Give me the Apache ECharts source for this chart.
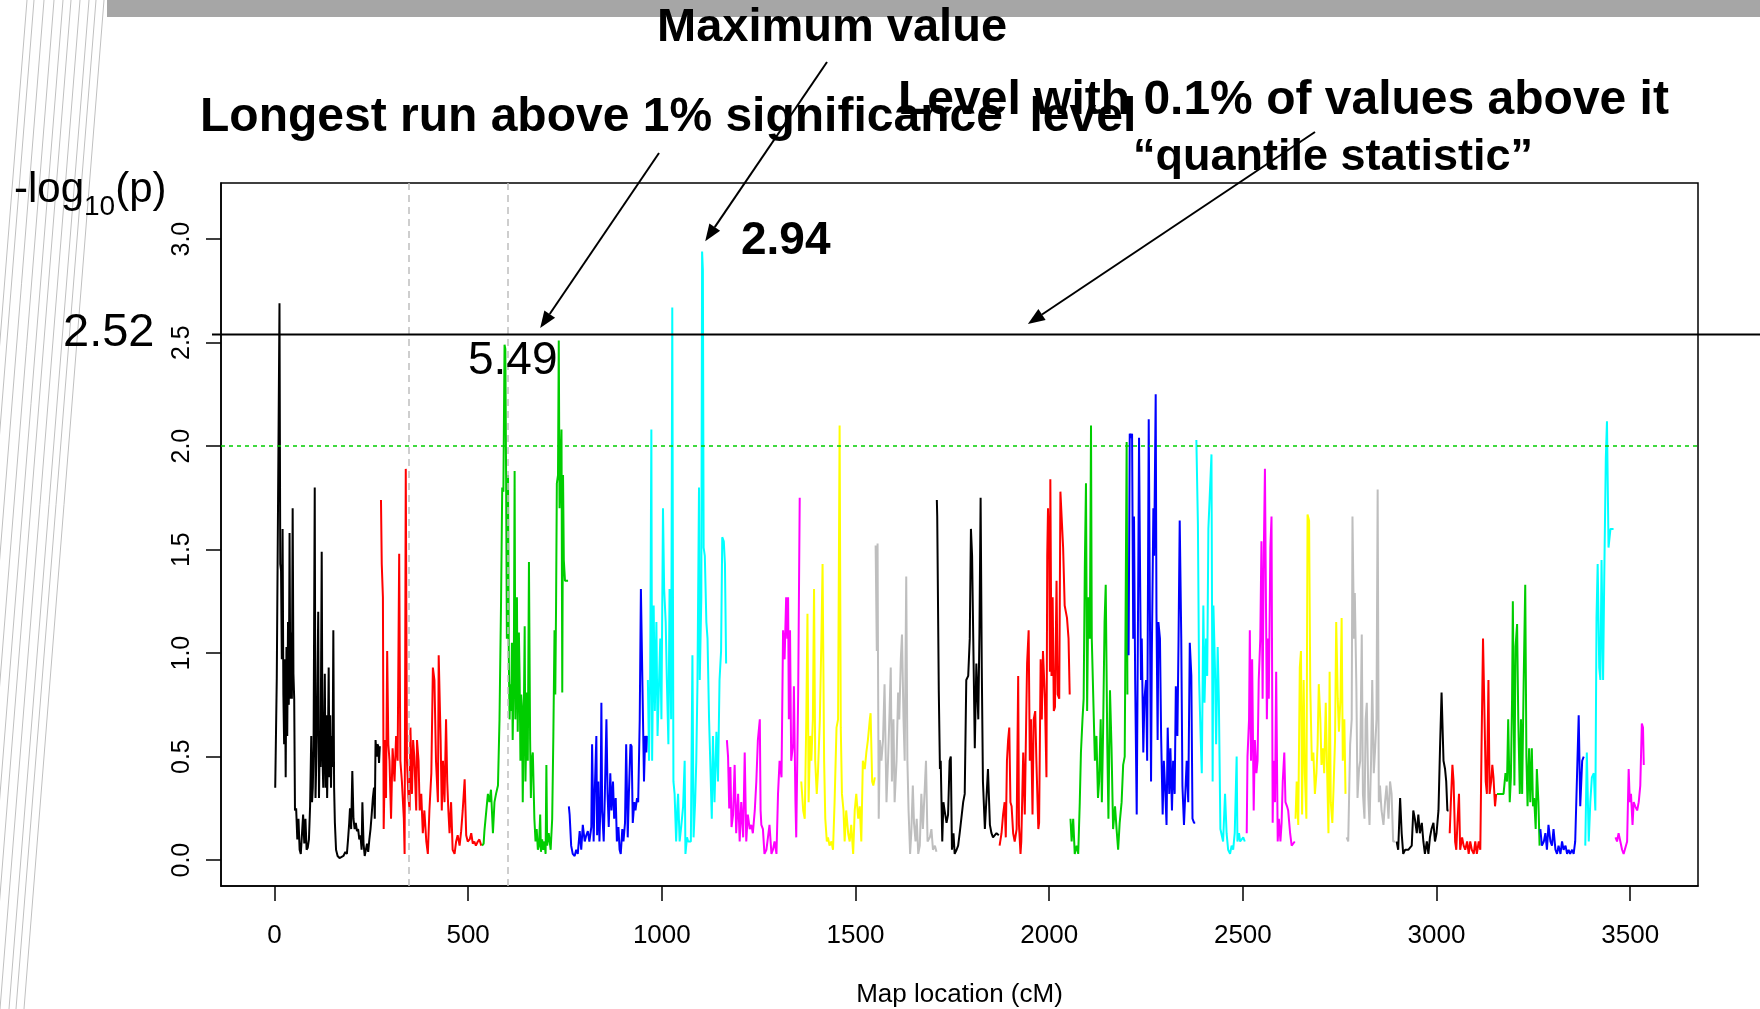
<!DOCTYPE html>
<html>
<head>
<meta charset="utf-8">
<script src="https://cdn.jsdelivr.net/npm/echarts@6/dist/echarts.min.js"></script>
<style>
html,body{margin:0;padding:0;background:#fff;}
#chart{width:1760px;height:1009px;}
</style>
</head>
<body>
<div id="chart"></div>
<script>
// ---------- data: [map location (cM), -log10(p)] per chromosome ----------
const chr1 = [[2,0.35],[6,0.88],[10,0.88],[13,2.69],[15,1.43],[17,1.40],[19,0.97],[21,1.60],[23,0.80],[25,0.56],[27,0.97],[29,0.40],[31,1.03],[33,0.60],[35,1.15],[37,0.75],[39,1.58],[41,0.78],[43,1.10],[45,0.78],[47,1.70],[49,0.90],[51,0.78],[53,0.24],[56,0.25],[59,0.10],[62,0.20],[65,0.05],[68,0.03],[71,0.03],[74,0.22],[77,0.08],[80,0.20],[83,0.05],[86,0.06],[89,0.10],[92,0.26],[95,0.60],[97,0.28],[99,0.35],[101,0.55],[104,1.80],[106,0.30],[108,0.48],[110,0.70],[113,1.20],[115,0.30],[117,0.60],[119,0.45],[122,1.49],[124,0.50],[126,0.35],[128,0.60],[130,0.90],[132,0.35],[134,0.70],[136,0.30],[138,0.55],[140,0.93],[142,0.40],[144,0.70],[146,0.35],[148,0.60],[150,0.45],[152,1.11],[154,0.35],[156,0.18],[159,0.05],[163,0.02],[168,0.01],[173,0.01],[178,0.02],[183,0.04],[187,0.03],[190,0.10],[193,0.18],[195,0.25],[198,0.15],[201,0.43],[204,0.20],[207,0.15],[210,0.18],[213,0.14],[216,0.15],[219,0.10],[222,0.12],[225,0.05],[227,0.28],[230,0.08],[233,0.02],[236,0.05],[239,0.08],[242,0.04],[245,0.10],[248,0.15],[251,0.22],[254,0.30],[257,0.35],[259,0.20],[261,0.58],[264,0.50],[266,0.56],[268,0.55],[270,0.47],[272,0.55]];
const chr2 = [[275,1.74],[277,1.43],[280,1.27],[282,0.15],[286,0.58],[288,0.30],[291,1.01],[294,0.56],[297,0.48],[301,0.20],[305,0.54],[310,0.38],[314,0.60],[318,0.48],[322,1.48],[325,0.48],[329,0.38],[334,0.20],[336,0.03],[339,1.89],[342,0.48],[346,0.30],[349,0.24],[351,0.64],[355,0.32],[358,0.58],[361,0.50],[366,0.24],[368,0.58],[372,0.48],[375,0.24],[379,0.32],[383,0.13],[387,0.24],[392,0.09],[396,0.03],[400,0.24],[405,0.42],[409,0.93],[413,0.87],[417,0.48],[422,0.28],[424,0.99],[429,0.58],[432,0.24],[435,0.48],[439,0.28],[443,0.68],[446,0.38],[449,0.24],[452,0.13],[456,0.28],[460,0.05],[465,0.03],[469,0.09],[473,0.12],[478,0.07],[482,0.14],[486,0.24],[491,0.39],[495,0.12],[499,0.09],[504,0.10],[508,0.13],[512,0.08],[516,0.09],[520,0.07],[525,0.09],[529,0.10],[534,0.07]];
const chr3 = [[536,0.07],[540,0.08],[542,0.14],[547,0.24],[551,0.32],[555,0.28],[559,0.34],[564,0.13],[568,0.28],[572,0.32],[577,0.36],[581,0.68],[585,1.25],[588,1.80],[591,1.78],[594,2.49],[596,2.47],[598,1.86],[600,1.07],[603,1.86],[605,0.97],[607,0.68],[609,0.85],[611,0.72],[613,1.05],[615,0.58],[618,0.95],[620,1.88],[622,0.68],[624,0.90],[626,1.27],[628,0.62],[631,1.10],[633,0.87],[635,0.48],[637,0.80],[639,0.74],[641,0.28],[644,0.75],[646,1.13],[648,0.38],[650,0.60],[652,0.81],[654,0.48],[657,1.44],[660,0.58],[662,0.30],[664,0.48],[667,0.52],[671,0.20],[674,0.09],[677,0.15],[680,0.05],[683,0.07],[686,0.22],[688,0.04],[691,0.10],[694,0.05],[697,0.09],[700,0.03],[702,0.46],[704,0.07],[708,0.13],[713,0.05],[717,0.20],[720,0.60],[723,1.11],[725,0.80],[727,1.23],[729,1.82],[732,1.86],[734,2.51],[736,1.70],[739,1.70],[741,2.08],[743,0.81],[745,1.86],[747,1.45],[750,1.35],[758,1.35]];
const chr4 = [[760,0.26],[762,0.22],[766,0.07],[770,0.03],[775,0.02],[779,0.05],[783,0.03],[788,0.14],[792,0.05],[796,0.17],[801,0.09],[805,0.12],[809,0.14],[813,0.09],[818,0.16],[820,0.56],[824,0.09],[827,0.34],[831,0.60],[833,0.12],[836,0.38],[839,0.09],[842,0.30],[844,0.76],[846,0.24],[850,0.09],[853,0.32],[857,0.68],[860,0.32],[863,0.16],[867,0.42],[870,0.24],[874,0.38],[877,0.20],[881,0.30],[884,0.09],[888,0.16],[891,0.05],[894,0.03],[898,0.15],[901,0.09],[905,0.18],[908,0.56],[912,0.11],[915,0.32],[919,0.56],[922,0.55],[925,0.18],[929,0.28],[932,0.24],[936,0.30],[939,0.28],[943,0.68],[946,1.31],[950,1.31],[954,0.38],[957,0.60],[960,0.52],[962,0.60]];
const chr5 = [[964,0.87],[967,0.48],[970,0.89],[973,2.08],[975,0.48],[979,1.23],[982,0.72],[986,1.15],[989,0.60],[993,0.87],[996,1.07],[999,0.68],[1003,1.70],[1006,1.31],[1010,1.15],[1013,0.87],[1017,0.56],[1020,1.31],[1024,0.68],[1027,2.67],[1030,0.38],[1033,0.32],[1037,0.09],[1040,0.25],[1042,0.32],[1046,0.09],[1050,0.16],[1055,0.26],[1059,0.48],[1061,0.03],[1065,0.11],[1068,0.09],[1072,0.09],[1075,0.09],[1079,0.99],[1082,0.11],[1086,0.28],[1089,0.48],[1092,0.85],[1096,1.80],[1098,0.87],[1102,1.27],[1104,2.94],[1106,2.85],[1108,1.51],[1111,1.47],[1115,1.15],[1118,1.07],[1122,0.68],[1125,0.48],[1129,0.20],[1132,0.60],[1136,0.28],[1141,0.62],[1145,0.38],[1149,0.87],[1153,1.01],[1156,1.56],[1160,1.54],[1163,1.43],[1166,0.95]];
const chr6 = [[1168,0.58],[1171,0.50],[1174,0.25],[1177,0.45],[1180,0.16],[1184,0.22],[1188,0.46],[1192,0.13],[1197,0.32],[1201,0.09],[1205,0.28],[1210,0.11],[1214,0.52],[1218,0.09],[1222,0.22],[1227,0.15],[1231,0.17],[1235,0.13],[1240,0.24],[1244,0.38],[1248,0.58],[1253,0.68],[1255,0.24],[1257,0.17],[1261,0.15],[1265,0.03],[1270,0.05],[1274,0.11],[1278,0.17],[1283,0.03],[1287,0.05],[1291,0.09],[1296,0.03],[1300,0.32],[1304,0.48],[1309,0.40],[1313,1.11],[1317,0.97],[1321,1.27],[1324,1.07],[1326,1.27],[1328,0.68],[1331,1.11],[1334,0.48],[1339,0.56],[1341,0.84],[1345,0.28],[1347,0.11],[1352,0.80],[1356,1.75]];
const chr7 = [[1360,0.38],[1365,0.24],[1369,0.20],[1373,0.68],[1376,1.19],[1379,0.28],[1383,0.60],[1386,0.48],[1390,0.68],[1393,1.31],[1396,0.48],[1400,0.32],[1403,0.42],[1408,0.68],[1412,1.07],[1415,1.43],[1419,0.48],[1422,0.20],[1426,0.09],[1429,0.11],[1433,0.07],[1438,0.09],[1442,0.05],[1446,0.28],[1451,0.64],[1455,0.68],[1459,2.10],[1462,0.64],[1465,0.32],[1469,0.24],[1472,0.09],[1476,0.24],[1481,0.13],[1485,0.09],[1489,0.17],[1494,0.03],[1498,0.24],[1502,0.32],[1507,0.20],[1511,0.26],[1515,0.09],[1519,0.48],[1524,0.44],[1528,0.52],[1532,0.58],[1537,0.68],[1539,0.71],[1543,0.38],[1546,0.36],[1550,0.40]];
const chr8 = [[1552,1.52],[1555,1.01],[1557,1.53],[1558,1.01],[1560,0.20],[1563,0.58],[1567,0.48],[1571,0.58],[1575,0.85],[1580,0.28],[1584,0.48],[1588,0.72],[1591,0.93],[1594,0.38],[1598,0.68],[1601,0.28],[1606,0.48],[1610,0.81],[1613,0.68],[1617,0.97],[1620,1.09],[1624,0.68],[1627,0.48],[1631,1.37],[1634,0.48],[1637,0.24],[1641,0.03],[1644,0.13],[1648,0.36],[1651,0.18],[1655,0.09],[1658,0.20],[1662,0.03],[1666,0.07],[1670,0.32],[1674,0.15],[1679,0.15],[1682,0.48],[1686,0.09],[1692,0.11],[1696,0.15],[1700,0.05],[1705,0.07],[1709,0.04]];
const chr9 = [[1710,1.74],[1711,1.66],[1715,0.82],[1718,0.44],[1720,0.48],[1724,0.09],[1727,0.28],[1730,0.24],[1735,0.18],[1739,0.22],[1743,0.48],[1746,0.50],[1749,0.05],[1753,0.13],[1756,0.03],[1761,0.05],[1765,0.07],[1769,0.13],[1773,0.13],[1778,0.28],[1782,0.32],[1786,0.87],[1791,0.89],[1795,1.07],[1798,1.60],[1801,1.47],[1804,1.07],[1808,0.54],[1812,0.95],[1817,0.68],[1820,1.10],[1823,1.75],[1826,0.93],[1829,0.38],[1834,0.15],[1838,0.15],[1842,0.44],[1847,0.17],[1851,0.13],[1855,0.11],[1864,0.13],[1870,0.12]];
const chr10 = [[1872,0.07],[1877,0.13],[1881,0.22],[1885,0.28],[1888,0.11],[1891,0.48],[1894,0.58],[1897,0.64],[1900,0.28],[1903,0.26],[1907,0.13],[1911,0.09],[1916,0.15],[1920,0.89],[1922,0.17],[1926,0.03],[1928,0.09],[1933,0.52],[1937,0.22],[1941,0.72],[1943,0.95],[1947,1.11],[1950,0.48],[1953,0.68],[1957,0.22],[1960,0.68],[1964,0.72],[1967,0.48],[1972,0.15],[1974,0.18],[1978,0.97],[1981,0.68],[1984,1.01],[1989,0.78],[1993,0.40],[1995,1.47],[1997,1.70],[2000,1.51],[2002,0.91],[2003,1.84],[2006,0.89],[2009,1.27],[2012,0.72],[2015,0.74],[2019,1.35],[2022,0.80],[2026,0.78],[2029,1.78],[2033,1.78],[2036,1.51],[2040,1.23],[2043,1.23],[2046,1.17],[2050,1.07],[2053,0.80]];
const chr11 = [[2055,0.20],[2058,0.09],[2062,0.20],[2066,0.03],[2071,0.07],[2075,0.03],[2079,0.28],[2082,0.52],[2086,0.68],[2089,0.78],[2092,1.41],[2095,1.82],[2098,0.72],[2101,1.27],[2105,1.07],[2108,2.10],[2110,1.07],[2114,1.07],[2118,0.48],[2122,0.60],[2126,0.30],[2129,0.38],[2133,0.68],[2136,0.28],[2139,0.60],[2143,1.15],[2146,1.33],[2150,0.56],[2153,0.20],[2157,0.82],[2161,0.54],[2165,0.15],[2170,0.26],[2174,0.15],[2178,0.05],[2182,0.18],[2187,0.28],[2191,0.46],[2195,0.50],[2200,2.02],[2202,0.80]];
const chr12 = [[2205,0.99],[2208,2.06],[2212,2.04],[2214,2.06],[2217,1.07],[2219,1.66],[2222,0.87],[2226,0.22],[2229,1.07],[2232,2.04],[2234,1.54],[2237,0.87],[2239,1.07],[2243,0.52],[2246,0.78],[2250,0.87],[2253,0.48],[2257,2.13],[2260,1.21],[2263,0.38],[2265,0.99],[2269,1.70],[2271,1.47],[2275,2.25],[2277,1.19],[2280,0.58],[2282,1.15],[2286,1.07],[2289,0.60],[2293,0.22],[2296,0.48],[2300,0.32],[2303,0.17],[2306,0.64],[2310,0.32],[2313,0.54],[2317,0.24],[2320,0.48],[2324,0.32],[2327,0.84],[2331,0.60],[2334,1.07],[2337,1.64],[2341,1.07],[2344,0.36],[2348,0.17],[2351,0.17],[2355,0.48],[2359,0.28],[2363,1.05],[2367,0.89],[2370,0.20],[2374,0.18],[2377,0.18]];
const chr13 = [[2380,2.03],[2384,1.62],[2387,0.87],[2391,0.60],[2394,0.42],[2398,1.23],[2401,0.76],[2405,1.07],[2408,0.89],[2411,1.60],[2415,1.60],[2419,1.96],[2422,0.38],[2424,1.23],[2428,0.93],[2431,0.56],[2435,1.03],[2438,0.78],[2442,0.15],[2445,0.15],[2449,0.09],[2454,0.32],[2458,0.13],[2462,0.05],[2467,0.03],[2471,0.07],[2475,0.05],[2479,0.13],[2484,0.50],[2486,0.09],[2490,0.13],[2493,0.09],[2497,0.09],[2501,0.11],[2505,0.09]];
const chr14 = [[2510,0.13],[2512,0.50],[2516,0.68],[2518,1.11],[2521,0.48],[2524,0.97],[2528,0.24],[2531,0.58],[2535,0.42],[2538,0.48],[2541,0.87],[2545,1.07],[2548,1.54],[2551,0.78],[2554,1.47],[2557,1.89],[2560,1.17],[2562,0.68],[2565,1.07],[2567,0.78],[2571,1.51],[2574,1.66],[2577,0.18],[2579,0.48],[2583,0.28],[2586,0.91],[2590,0.09],[2593,0.20],[2597,0.09],[2600,0.18],[2603,0.38],[2607,0.52],[2610,0.28],[2614,0.26],[2617,0.24],[2622,0.13],[2626,0.07],[2630,0.07],[2634,0.09]];
const chr15 = [[2636,0.20],[2639,0.38],[2643,0.17],[2647,0.93],[2650,1.01],[2653,0.22],[2657,0.87],[2660,0.42],[2664,0.20],[2667,1.67],[2671,1.64],[2674,0.84],[2678,0.48],[2682,0.52],[2686,0.32],[2690,0.42],[2693,0.56],[2696,0.85],[2700,0.68],[2703,0.46],[2707,0.54],[2710,0.42],[2714,0.76],[2717,0.48],[2721,0.13],[2724,0.91],[2727,0.28],[2731,0.18],[2734,0.34],[2738,0.58],[2741,1.15],[2745,0.78],[2748,0.62],[2752,0.78],[2755,1.17],[2758,0.48],[2762,0.68],[2765,0.32]];
const chr16 = [[2768,0.11],[2772,0.09],[2777,0.56],[2781,0.68],[2783,1.66],[2787,1.07],[2789,1.29],[2793,0.84],[2796,0.30],[2800,0.44],[2803,0.48],[2807,1.09],[2810,0.32],[2814,0.20],[2817,0.68],[2820,0.76],[2824,0.30],[2827,0.17],[2831,0.48],[2834,0.87],[2838,0.42],[2841,0.52],[2845,0.68],[2848,1.79],[2851,0.28],[2854,0.36],[2858,0.24],[2863,0.17],[2867,0.28],[2871,0.36],[2876,0.20],[2880,0.38],[2884,0.32],[2888,0.09],[2893,0.09]];
const chr17 = [[2897,0.09],[2901,0.05],[2906,0.30],[2910,0.13],[2914,0.03],[2919,0.05],[2927,0.05],[2936,0.07],[2940,0.24],[2944,0.20],[2949,0.13],[2953,0.22],[2957,0.13],[2962,0.18],[2966,0.09],[2970,0.03],[2975,0.09],[2979,0.03],[2983,0.11],[2987,0.15],[2992,0.18],[2996,0.09],[3000,0.13],[3005,0.24],[3009,0.54],[3013,0.81],[3018,0.48],[3022,0.44],[3025,0.38],[3028,0.24],[3031,0.24]];
const chr18 = [[3034,0.13],[3037,0.28],[3041,0.46],[3044,0.38],[3048,0.09],[3051,0.05],[3054,0.18],[3058,0.32],[3061,0.05],[3066,0.11],[3070,0.07],[3074,0.05],[3079,0.09],[3083,0.03],[3087,0.09],[3091,0.05],[3096,0.03],[3100,0.09],[3104,0.03],[3109,0.09],[3113,0.05],[3116,0.52],[3120,1.07],[3123,0.78],[3127,0.38],[3130,0.32],[3134,0.87],[3137,0.32],[3141,0.38],[3144,0.46],[3147,0.40],[3151,0.26],[3154,0.32]];
const chr19 = [[3156,0.32],[3165,0.32],[3173,0.32],[3178,0.42],[3182,0.38],[3185,0.68],[3189,0.28],[3192,0.40],[3195,0.78],[3197,1.25],[3201,0.36],[3204,1.03],[3208,1.14],[3211,0.68],[3215,0.32],[3218,0.68],[3221,0.32],[3225,0.87],[3229,1.33],[3232,0.50],[3235,0.26],[3239,0.54],[3242,0.28],[3246,0.54],[3249,0.26],[3252,0.30],[3256,0.15],[3259,0.44],[3263,0.28],[3266,0.07]];
const chr20 = [[3268,0.15],[3272,0.07],[3277,0.09],[3281,0.13],[3285,0.05],[3289,0.17],[3294,0.09],[3298,0.07],[3302,0.15],[3307,0.05],[3311,0.03],[3315,0.07],[3320,0.03],[3324,0.09],[3328,0.05],[3333,0.07],[3337,0.03],[3341,0.05],[3345,0.03],[3350,0.05],[3354,0.03],[3358,0.09],[3363,0.09],[3367,0.70],[3371,0.26],[3376,0.48],[3380,0.50]];
const chr21 = [[3384,0.07],[3388,0.52],[3393,0.09],[3397,0.28],[3401,0.40],[3406,0.42],[3410,0.24],[3413,1.17],[3416,1.43],[3420,0.93],[3423,0.87],[3426,1.45],[3430,0.87],[3433,1.37],[3437,1.94],[3440,2.12],[3444,1.51],[3449,1.60],[3457,1.60]];
const chr22 = [[3462,0.11],[3466,0.09],[3470,0.13],[3475,0.13],[3479,0.05],[3483,0.03],[3487,0.03],[3492,0.09],[3496,0.44],[3499,0.28],[3502,0.32],[3506,0.17],[3509,0.28],[3513,0.26],[3518,0.24],[3522,0.28],[3526,0.36],[3530,0.66],[3533,0.64],[3535,0.46]];

const chromosomes = [chr1,chr2,chr3,chr4,chr5,chr6,chr7,chr8,chr9,chr10,chr11,chr12,chr13,chr14,chr15,chr16,chr17,chr18,chr19,chr20,chr21,chr22];
const palette = ['#000000','#FF0000','#00CD00','#0000FF','#00FFFF','#FF00FF','#FFFF00','#BEBEBE'];

const xTicks = [0,500,1000,1500,2000,2500,3000,3500];
const yTicks = [0,0.5,1.0,1.5,2.0,2.5,3.0];
const xRange = [-138, 3675];
const yRange = [-0.125, 3.271];

const significanceLevel = 2.0;        // 1% significance (green dotted)
const quantileLevel = 2.52;           // 0.1% quantile statistic
const maxPoint = [1104, 2.94];        // maximum value
const runBounds = [346, 603];         // longest run (grey dashed)
const runLengthLabel = '5.49';

// ---------- chart ----------
const FONT = '"Liberation Sans", Arial, Helvetica, sans-serif';
const chart = echarts.init(document.getElementById('chart'), null, {renderer:'canvas'});

const series = chromosomes.map((d, i) => ({
  type: 'line',
  data: d,
  symbol: 'none',
  animation: false,
  silent: true,
  lineStyle: {color: palette[i % palette.length], width: 2},
  z: 3
}));

series.push({
  type: 'line', data: [], symbol: 'none', silent: true, animation: false,
  markLine: {
    symbol: 'none', silent: true, animation: false,
    label: {show: false},
    data: [
      {yAxis: significanceLevel, lineStyle: {color: '#00CD00', type: [4, 4], width: 1.6}},
      {xAxis: runBounds[0], lineStyle: {color: '#BEBEBE', type: [7, 5], width: 1.5}},
      {xAxis: runBounds[1], lineStyle: {color: '#BEBEBE', type: [7, 5], width: 1.5}}
    ]
  },
  z: 2
});

const option = {
  animation: false,
  backgroundColor: '#ffffff',
  grid: {left: 221, right: 62, top: 183, bottom: 123, containLabel: false, outerBoundsMode: 'none',
    show: true, borderColor: '#000', borderWidth: 1.5, backgroundColor: 'transparent'},
  xAxis: {
    type: 'value', min: xRange[0], max: xRange[1],
    splitLine: {show: false},
    axisLine: {show: true, onZero: false, lineStyle: {color: '#000', width: 1.5}},
    axisTick: {show: true, length: 15, lineStyle: {color: '#000', width: 1.5}, customValues: xTicks},
    axisLabel: {customValues: xTicks, color: '#000', fontSize: 26, fontFamily: FONT, margin: 37,
      formatter: v => String(Math.round(v))},
    name: 'Map location (cM)', nameLocation: 'middle', nameGap: 96,
    nameTextStyle: {color: '#000', fontSize: 26, fontFamily: FONT}
  },
  yAxis: {
    type: 'value', min: yRange[0], max: yRange[1],
    splitLine: {show: false},
    axisLine: {show: true, onZero: false, lineStyle: {color: '#000', width: 1.5}},
    axisTick: {show: true, length: 15, lineStyle: {color: '#000', width: 1.5}, customValues: yTicks},
    axisLabel: {customValues: yTicks, rotate: 90, color: '#000', fontSize: 25, fontFamily: FONT, margin: 26,
      formatter: v => v.toFixed(1)}
  },
  series: series
};
chart.setOption(option);

// ---------- annotations ----------
const px = (x, y) => chart.convertToPixel({xAxisIndex: 0, yAxisIndex: 0}, [x, y]);
const measure = (() => { const c = document.createElement('canvas').getContext('2d'); return (t, f) => { c.font = f; return c.measureText(t).width; }; })();

function arrow(x1, y1, x2, y2) {
  const L = 17, W = 6.5;
  const dx = x2 - x1, dy = y2 - y1, len = Math.hypot(dx, dy);
  const ux = dx / len, uy = dy / len;
  const bx = x2 - ux * L, by = y2 - uy * L;
  return [
    {type: 'line', z: 50, shape: {x1: x1, y1: y1, x2: bx, y2: by}, style: {stroke: '#000', lineWidth: 2}},
    {type: 'polygon', z: 50, shape: {points: [[x2, y2], [bx - uy * W, by + ux * W], [bx + uy * W, by - ux * W]]}, style: {fill: '#000'}}
  ];
}
function txt(t, x, y, size, bold, align) {
  return {type: 'text', z: 60, x: x, y: y,
    style: {text: t, font: (bold ? 'bold ' : '') + size + 'px ' + FONT, fill: '#000', align: align || 'left', verticalAlign: 'middle'}};
}

const qY = px(0, quantileLevel)[1] - 4;   // hand-drawn line sits a hair above 2.52
const tipRun = px(686, 2.57);
const tipMax = px(maxPoint[0] + 8, maxPoint[1] + 0.05);
const tipQ = px(1945, 2.59);

const graphics = [];
// slide decoration: grey top bar and thin diagonal lines on the left
graphics.push({type: 'rect', z: 1, shape: {x: 107, y: 0, width: 1653, height: 17}, style: {fill: '#a6a6a6'}});
[27, 34, 44, 54, 63, 71, 80, 89, 96, 104].forEach(t => {
  graphics.push({type: 'line', z: 1, shape: {x1: t, y1: 0, x2: t - 80, y2: 1009}, style: {stroke: '#c0c0c0', lineWidth: 1}});
});
// quantile level line (extends beyond plot)
graphics.push({type: 'line', z: 40, shape: {x1: 212, y1: qY, x2: 1760, y2: qY}, style: {stroke: '#000', lineWidth: 2}});

graphics.push(...arrow(659, 153, tipRun[0], tipRun[1]));
graphics.push(...arrow(827, 62, tipMax[0], tipMax[1]));
graphics.push(...arrow(1315, 132, tipQ[0], tipQ[1]));

graphics.push(txt('Maximum value', 657, 28, 47, true));
graphics.push(txt('Longest run above 1% significance  level', 200, 118, 48, true));
graphics.push(txt('Level with 0.1% of values above it', 898, 101, 48, true));
graphics.push(txt('\u201Cquantile statistic\u201D', 1533, 158, 45, true, 'right'));
graphics.push(txt(maxPoint[1].toFixed(2), 741, 241, 46, true));
graphics.push(txt(quantileLevel.toFixed(2), 63, 333, 47, false));
graphics.push(txt(runLengthLabel, 468, 361, 46, false));

// y-axis title  -log10(p)
const f1 = '42px ' + FONT, f2 = '28px ' + FONT;
let lx = 14;
graphics.push({type: 'text', z: 60, x: lx, y: 211, style: {text: '-log', font: f1, fill: '#000', verticalAlign: 'bottom'}});
lx += measure('-log', f1);
graphics.push({type: 'text', z: 60, x: lx, y: 221, style: {text: '10', font: f2, fill: '#000', verticalAlign: 'bottom'}});
lx += measure('10', f2);
graphics.push({type: 'text', z: 60, x: lx, y: 211, style: {text: '(p)', font: f1, fill: '#000', verticalAlign: 'bottom'}});

chart.setOption({graphic: graphics});
</script>
</body>
</html>
